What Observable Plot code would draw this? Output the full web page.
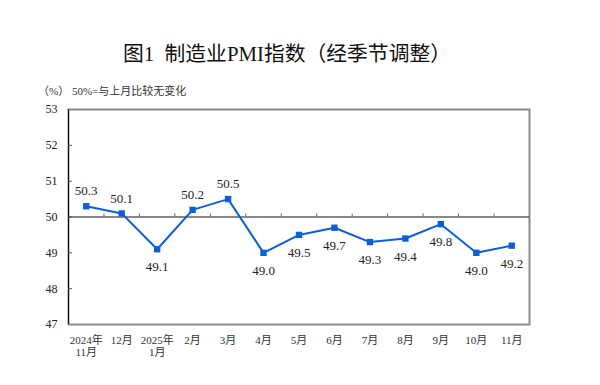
<!DOCTYPE html>
<html>
<head>
<meta charset="utf-8">
<script src="https://cdn.jsdelivr.net/npm/d3@7"></script>
<script src="https://cdn.jsdelivr.net/npm/@observablehq/plot@0.6"></script>
<style>
  html, body { margin: 0; padding: 0; background: #fff; }
  #wrap { position: relative; width: 600px; height: 385px; overflow: hidden; }
  #title { position: absolute; left: 0; width: 574px; top: 37px; text-align: center;
           font-family: "Liberation Serif", "Noto Sans CJK SC", serif; font-size: 20.8px; color: #111; white-space: nowrap; }
  #sub { position: absolute; left: 38px; top: 82px;
         font-family: "Liberation Serif", "Noto Sans CJK SC", serif; font-size: 11px; color: #333; white-space: nowrap; }
  #chart { position: absolute; left: 0; top: 0; }
</style>
</head>
<body>
<div id="wrap">
  <div id="chart"></div>
  <div id="title">图1&nbsp;&nbsp;制造业PMI指数（经季节调整）</div>
  <div id="sub">（%）&nbsp;50%=与上月比较无变化</div>
</div>
<script>
const months = ["2024年\n11月", "12月", "2025年\n1月", "2月", "3月", "4月", "5月", "6月", "7月", "8月", "9月", "10月", "11月"];
const pmi = [50.3, 50.1, 49.1, 50.2, 50.5, 49.0, 49.5, 49.7, 49.3, 49.4, 49.8, 49.0, 49.2];
const yTicks = [47, 48, 49, 50, 51, 52, 53];
const baseline = 50;

const data = months.map((m, i) => ({i, month: m, value: pmi[i]}));
const bounds = months.slice(1).map((_, i) => i + 0.5);
const blue = "#0b5fd6";
const serif = "'Liberation Serif', 'Noto Sans CJK SC', serif";

const chart = Plot.plot({
  width: 600,
  height: 385,
  marginTop: 109,
  marginBottom: 61,
  marginLeft: 68,
  marginRight: 71,
  style: {fontFamily: serif, background: "transparent"},
  x: {domain: [-0.5, months.length - 0.5]},
  y: {domain: [yTicks[0], yTicks[yTicks.length - 1]]},
  marks: [
    Plot.frame({stroke: "#8a8a8a", strokeWidth: 2}),
    Plot.ruleX([-0.5], {stroke: "#111", strokeWidth: 1}),
    Plot.ruleY([baseline], {stroke: "#111", strokeWidth: 1}),
    Plot.ruleX(bounds, {x: d => d, y1: baseline, y2: baseline + 0.085, stroke: "#666", strokeWidth: 1}),
    Plot.axisY({ticks: yTicks, tickSize: 0, tickPadding: 11, fontSize: 12, fill: "#222", label: null, tickFormat: d => String(d)}),
    Plot.axisY({ticks: yTicks.slice(1, -1), tickSize: -4, text: null, stroke: "#555", label: null}),
    Plot.axisX({ticks: months.map((_, i) => i), tickFormat: i => months[i], tickSize: 0, tickPadding: 11, fontSize: 11, lineHeight: 1.1, fill: "#333", label: null}),
    Plot.line(data, {x: "i", y: "value", stroke: blue, strokeWidth: 2}),
    Plot.dot(data, {x: "i", y: "value", symbol: "square", r: 3.6, fill: blue, stroke: "none"}),
    Plot.text(data.filter(d => d.value >= baseline), {x: "i", y: "value", text: d => d.value.toFixed(1), dy: -15, fontSize: 13, fill: "#222"}),
    Plot.text(data.filter(d => d.value < baseline), {x: "i", y: "value", text: d => d.value.toFixed(1), dy: 18, fontSize: 13, fill: "#222"})
  ]
});
document.getElementById("chart").appendChild(chart);
</script>
</body>
</html>
